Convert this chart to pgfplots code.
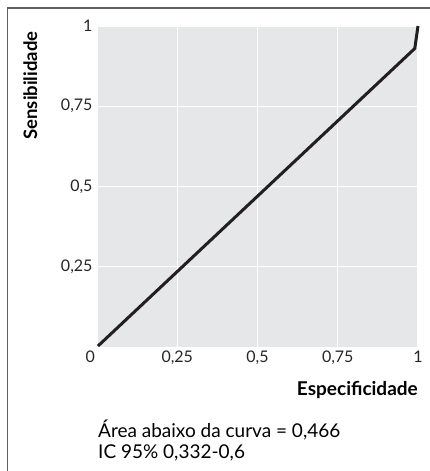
\documentclass[border=0pt]{standalone}
\usepackage{pgfplots}
\pgfplotsset{compat=1.18}
\usepackage{fontspec}
\setmainfont{Lato}
\definecolor{plotbg}{RGB}{230,231,232}
\definecolor{curve}{RGB}{35,31,32}
\begin{document}
\begin{tikzpicture}[x=1pt,y=1pt]
\useasboundingbox (0,0) rectangle (430,-471);
\draw[gray!75!black, line width=1.3pt] (7.5,-471) -- (7.5,-8) -- (430,-8);
\begin{axis}[
  at={(97pt,-347pt)}, anchor=south west,
  scale only axis, width=321pt, height=321pt,
  xmin=0, xmax=1, ymin=0, ymax=1,
  axis background/.style={fill=plotbg},
  axis line style={draw=none},
  tick style={draw=none},
  grid=major,
  grid style={white, line width=1.4pt},
  xtick={0,0.25,0.5,0.75,1},
  ytick={0.25,0.5,0.75,1},
  xticklabels={\makebox[0pt][r]{0\hspace{2pt}},{0,25},{0,5},{0,75},1},
  yticklabels={{0,25},{0,5},{0,75},1},
  ticklabel style={font=\fontsize{16}{16}\selectfont, text=black!85},
  xticklabel style={yshift=0pt},
  yticklabel style={xshift=-1pt},
  clip=false,
]
\addplot[curve, line width=3pt, line join=miter] coordinates {(0.003,0.003) (0.99,0.93) (1,1)};
\end{axis}
\node[rotate=90, anchor=base east, font=\fontsize{18.5}{18.5}\selectfont\bfseries] at (37,-28) {Sensibilidade};
\node[anchor=base east, font=\fontsize{19}{19}\selectfont\bfseries, inner sep=0] at (418,-395) {Especificidade};
\node[anchor=base west, font=\fontsize{19}{19}\selectfont, inner sep=0] at (98,-437) {Área abaixo da curva = 0,466};
\node[anchor=base west, font=\fontsize{19}{19}\selectfont, inner sep=0] at (98,-458) {IC 95\% 0,332-0,6};
\end{tikzpicture}
\end{document}
